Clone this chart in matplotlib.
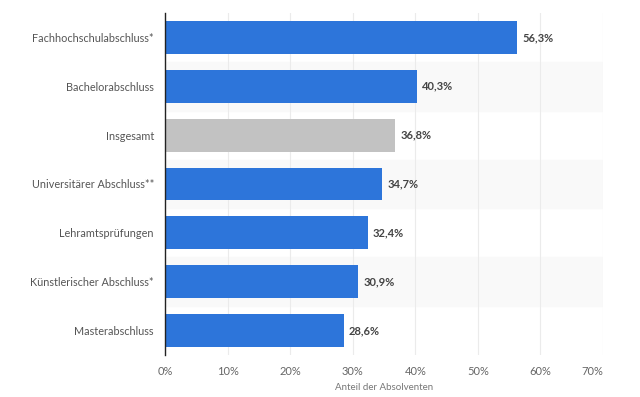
import matplotlib.pyplot as plt
import numpy as np

categories = [
    "Fachhochschulabschluss*",
    "Bachelorabschluss",
    "Insgesamt",
    "Universitärer Abschluss**",
    "Lehramtsprüfungen",
    "Künstlerischer Abschluss*",
    "Masterabschluss",
]
values = [56.3, 40.3, 36.8, 34.7, 32.4, 30.9, 28.6]
highlight = "Insgesamt"

BLUE = "#2d75da"
GREY = "#c2c2c2"

plt.rcParams["font.family"] = ["Lato", "DejaVu Sans"]

fig = plt.figure(figsize=(6.4, 3.97), dpi=100)
ax = fig.add_axes([165 / 640, 1 - 355 / 397, (603 - 165) / 640, (355 - 13) / 397])

y = np.arange(len(categories))
colors = [GREY if c == highlight else BLUE for c in categories]

# alternating row bands
for i in y:
    if i % 2 == 1:
        ax.axhspan(i - 0.5, i + 0.5, color="#f9f9f9", zorder=0)

ax.barh(y, values, height=0.67, color=colors, zorder=3)

for yi, v in zip(y, values):
    ax.text(v + 0.8, yi, f"{v:.1f}%".replace(".", ","), va="center", ha="left",
            fontsize=8, fontweight="bold", color="#444444", zorder=4)

ax.set_xlim(0, 70)
ax.set_ylim(len(categories) - 0.5, -0.5)
ax.set_yticks(y)
ax.set_yticklabels(categories, fontsize=7.8, color="#555555")
ax.set_xticks(np.arange(0, 71, 10))
ax.set_xticklabels([f"{t}%" for t in range(0, 71, 10)], fontsize=8, color="#666666")
ax.tick_params(length=0, pad=8)
ax.tick_params(axis="y", pad=8)
# last tick label sits a little left, as in the source
ax.get_xticklabels()[-1].set_horizontalalignment("right")
ax.get_xticklabels()[-1].set_x(72)
ax.grid(axis="x", color="#ebebeb", linewidth=0.8, zorder=1)
ax.set_axisbelow(True)
for s in ["top", "right", "bottom"]:
    ax.spines[s].set_visible(False)
ax.spines["left"].set_color("#222222")
ax.spines["left"].set_linewidth(1)
ax.spines["left"].set_zorder(5)
ax.set_xlabel("Anteil der Absolventen", fontsize=7, color="#777777", labelpad=4)

fig.savefig("out.png", dpi=100)
